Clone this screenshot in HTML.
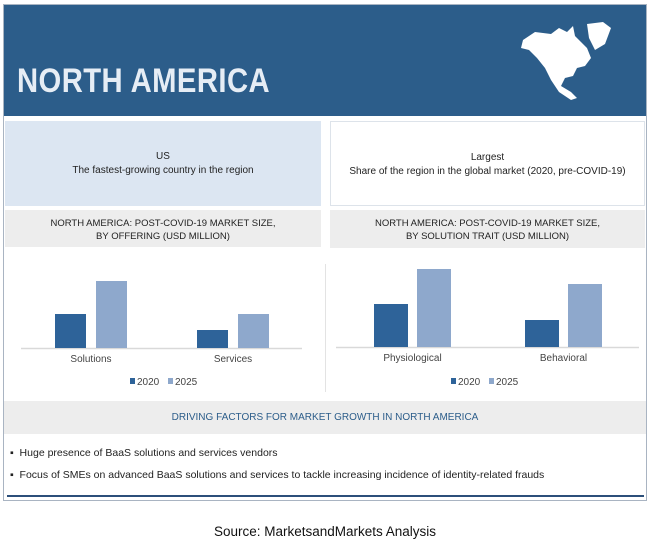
<!DOCTYPE html>
<html><head><meta charset="utf-8"><style>
body{margin:0;width:650px;height:550px;background:#fff;font-family:"Liberation Sans",sans-serif;position:relative;overflow:hidden}
.abs{position:absolute}
.c{text-align:center}
.cond{font-family:"Liberation Sans Narrow","Liberation Sans",sans-serif}
</style></head><body>
<div class="abs" style="left:3px;top:4px;width:642px;height:495px;border:1px solid #a9b4c2"></div>
<div class="abs" style="left:4px;top:5px;width:642px;height:111px;background:#2c5d8a"></div>
<div class="abs" style="left:17px;top:62px;font-size:34px;font-weight:bold;color:#e6edf5;transform:scaleX(0.86);transform-origin:left;letter-spacing:0.5px">NORTH AMERICA</div>
<svg class="abs" style="left:515px;top:18px" width="100" height="85" viewBox="0 0 100 85">
<path fill="#fff" d="M8 22 L20 14 L36 16 L44 10 L52 14 L58 8 L60 18 L66 24 L72 30 L76 40 L70 48 L62 50 L58 58 L50 60 L46 68 L56 74 L62 80 L56 82 L44 74 L36 62 L30 50 L22 40 L14 32 L6 30 Z"/>
<path fill="#fff" d="M72 6 L88 4 L96 10 L90 26 L80 32 L74 20 Z"/>
</svg>
<div class="abs c cond" style="left:5px;top:121px;width:316px;height:85px;background:#dce6f2;font-size:10px;color:#222;line-height:14px;padding-top:29px;box-sizing:border-box">US<br>The fastest-growing country in the region</div>
<div class="abs c cond" style="left:330px;top:121px;width:315px;height:85px;border:1px solid #dde3ea;box-sizing:border-box;font-size:10px;color:#222;line-height:14px;padding-top:29px">Largest<br>Share of the region in the global market (2020, pre-COVID-19)</div>
<div class="abs c cond" style="left:5px;top:210px;width:316px;height:37px;background:#ededed;font-size:9.5px;color:#222;line-height:13px;padding-top:7px;box-sizing:border-box">NORTH AMERICA: POST-COVID-19 MARKET SIZE,<br>BY OFFERING (USD MILLION)</div>
<div class="abs c cond" style="left:330px;top:210px;width:315px;height:38px;background:#ededed;font-size:9.5px;color:#222;line-height:13px;padding-top:7px;box-sizing:border-box">NORTH AMERICA: POST-COVID-19 MARKET SIZE,<br>BY SOLUTION TRAIT (USD MILLION)</div>
<div class="abs" style="left:325px;top:264px;width:1px;height:128px;background:#e3e3e3"></div>
<svg class="abs" id="charts" style="left:0;top:0" width="650" height="400"></svg>
<div class="abs c cond" style="left:4px;top:401px;width:642px;height:33px;background:#ededed;font-size:10px;color:#2c5d8a;line-height:33px">DRIVING FACTORS FOR MARKET GROWTH IN NORTH AMERICA</div>
<div class="abs cond" style="left:10px;top:447px;font-size:10.5px;color:#222">▪&nbsp; Huge presence of BaaS solutions and services vendors</div>
<div class="abs cond" style="left:10px;top:469px;font-size:10.5px;color:#222">▪&nbsp; Focus of SMEs on advanced BaaS solutions and services to tackle increasing incidence of identity-related frauds</div>
<div class="abs" style="left:7px;top:495px;width:637px;height:2px;background:#2c4f7a"></div>
<div class="abs c" style="left:0;top:524px;width:650px;font-size:13.5px;color:#111">Source: MarketsandMarkets Analysis</div>
<script>
const offeringCats=["Solutions","Services"];
const offering2020=[34,18];
const offering2025=[67,34];
const traitCats=["Physiological","Behavioral"];
const trait2020=[43,27];
const trait2025=[78,63];
const years=["2020","2025"];
const svg=document.getElementById('charts');
const NS='http://www.w3.org/2000/svg';
function mk(t,a){const e=document.createElementNS(NS,t);for(const k in a)e.setAttribute(k,a[k]);svg.appendChild(e);return e;}
function chart(cats,s1,s2,x0,x1,base,gstart,gstep,bw,gap,legX,prefix){
  const ax=mk('line',{x1:x0,x2:x1,y1:base+0.5,y2:base+0.5,stroke:'#d9d9d9','stroke-width':1.5});
  
  const y=v=>base-v;
  cats.forEach((c,i)=>{
    const gx=gstart+i*gstep;
    const b1=mk('rect',{x:gx,y:y(s1[i]),width:bw,height:s1[i],fill:'#2e6399'});
    
    const b2=mk('rect',{x:gx+bw+gap,y:y(s2[i]),width:bw,height:s2[i],fill:'#8ea8cc'});
    
    const t=mk('text',{x:gx+bw+gap/2,y:base+14,'text-anchor':'middle','font-size':10,fill:'#444','font-family':'Liberation Sans Narrow, Liberation Sans, sans-serif'});
    t.textContent=c;
  });
  const cols=['#2e6399','#8ea8cc'];
  years.forEach((yr,i)=>{
    const lx=legX+i*38;
    const r=mk('rect',{x:lx,y:378,width:5,height:6,fill:cols[i]});
    
    const t=mk('text',{x:lx+7,y:385,'font-size':10,fill:'#444','font-family':'Liberation Sans, sans-serif'});
    t.textContent=yr;
  });
}
chart(offeringCats,offering2020,offering2025,21,302,348,55,142,31,10,130,'offering');
chart(traitCats,trait2020,trait2025,336,639,347,374,151,34,9,451,'trait');
</script>
</body></html>
